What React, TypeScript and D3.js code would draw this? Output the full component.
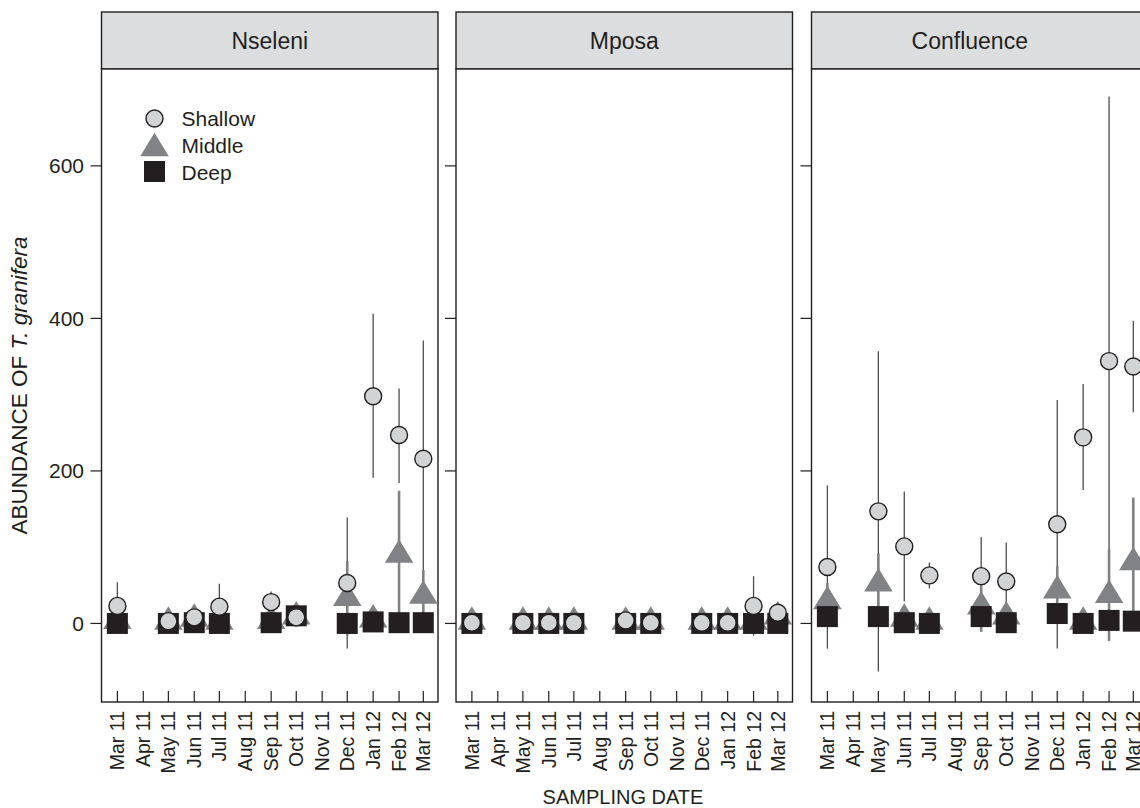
import React from "react";
import * as d3 from "d3";

const WIDTH = 1140;
const HEIGHT = 808;

const sites = ["Nseleni", "Mposa", "Confluence"];
const sampleMonths = [
  "2011-03-01", "2011-05-01", "2011-06-01", "2011-07-01", "2011-09-01",
  "2011-10-01", "2011-12-01", "2012-01-01", "2012-02-01", "2012-03-01",
];
const yTicks = [0, 200, 400, 600];

// each entry: [mean, lower, upper]
const nseleniShallow = [[23, -8, 54], [3, 0, 6], [8, 2, 14], [22, -8, 52], [28, 14, 42], [8, 3, 13], [53, -33, 139], [298, 191, 406], [247, 184, 308], [216, 65, 371]];
const nseleniMiddle = [[3, 0, 6], [2, 0, 4], [6, 2, 10], [2, 0, 4], [3, 0, 6], [9, 4, 14], [33, -16, 82], [5, 0, 10], [90, 6, 174], [36, 2, 70]];
const nseleniDeep = [[0, -3, 3], [0, -3, 3], [1, -2, 4], [0, -3, 3], [1, -2, 4], [10, 5, 15], [0, -3, 3], [2, -1, 5], [1, -2, 4], [1, -2, 4]];

const mposaShallow = [[1, 0, 2], [1, 0, 2], [1, 0, 2], [1, 0, 2], [4, 1, 7], [1, 0, 2], [1, 0, 2], [1, 0, 2], [23, -16, 62], [14, 8, 20]];
const mposaMiddle = [[2, 0, 4], [2, 0, 4], [2, 0, 4], [2, 0, 4], [2, 0, 4], [2, 0, 4], [2, 0, 4], [2, 0, 4], [2, 0, 4], [9, 4, 14]];
const mposaDeep = [[0, -2, 2], [0, -2, 2], [0, -2, 2], [0, -2, 2], [0, -2, 2], [0, -2, 2], [0, -2, 2], [0, -2, 2], [0, -2, 2], [0, -2, 2]];

const confluenceShallow = [[74, -33, 181], [147, -63, 357], [101, 29, 173], [63, 46, 80], [62, 11, 113], [55, 4, 106], [130, -33, 293], [244, 175, 314], [344, -3, 691], [337, 277, 397]];
const confluenceMiddle = [[29, 5, 53], [52, 12, 92], [6, 0, 12], [2, 0, 4], [22, -11, 55], [9, 0, 18], [43, 11, 75], [2, 0, 4], [37, -23, 97], [80, -5, 165]];
const confluenceDeep = [[9, 0, 18], [9, 0, 18], [1, -3, 5], [0, -3, 3], [9, 3, 15], [1, -3, 5], [13, 5, 21], [0, -3, 3], [4, -1, 9], [3, -1, 7]];

const depthNames = ["Shallow", "Middle", "Deep"];

const siteSeries: Record<string, number[][][]> = {
  Nseleni: [nseleniShallow, nseleniMiddle, nseleniDeep],
  Mposa: [mposaShallow, mposaMiddle, mposaDeep],
  Confluence: [confluenceShallow, confluenceMiddle, confluenceDeep],
};

// layout
const panelX = [101.5, 456, 811.5];
const panelW = 336.5;
const stripTop = 12;
const plotTop = 69;
const plotBottom = 702;
const font = "'Liberation Sans', Arial, Helvetica, sans-serif";
const ink = "#231f20";
const circleFill = "#d1d3d4";
const triFill = "#808285";
const triW = 28.5;
const triH = 23.5;
const sq = 21;

const parse = d3.timeParse("%Y-%m-%d");
const fmt = d3.timeFormat("%b %y");

const x = d3
  .scaleTime()
  .domain([new Date(2011, 1, 10), new Date(2012, 2, 18, 14)])
  .range([0, panelW]);

const y = d3.scaleLinear().domain([-103, 727]).range([plotBottom, plotTop]);

function triPath(cx: number, cy: number) {
  const p = d3.path();
  p.moveTo(cx, cy - (2 * triH) / 3);
  p.lineTo(cx + triW / 2, cy + triH / 3);
  p.lineTo(cx - triW / 2, cy + triH / 3);
  p.closePath();
  return p.toString();
}

function Panel({ site, x0, showLegend }: { site: string; x0: number; showLegend: boolean }) {
  const [shallow, middle, deep] = siteSeries[site];
  const dates = sampleMonths.map((d) => parse(d) as Date);
  const months = x.ticks(d3.timeMonth.every(1) as d3.TimeInterval);
  const visibleRight = Math.min(x0 + panelW, WIDTH);
  const titleX = (visibleRight - x0) / 2 - (visibleRight < x0 + panelW ? 6 : 0);

  const bar = (s: number[][], color: string, w: number, key: string) =>
    s.map((d, i) => (
      <line
        key={key + i}
        x1={x(dates[i])}
        x2={x(dates[i])}
        y1={y(d[1])}
        y2={y(d[2])}
        stroke={color}
        strokeWidth={w}
      />
    ));

  return (
    <g transform={`translate(${x0},0)`}>
      <rect x={0} y={stripTop} width={panelW} height={plotTop - stripTop} fill="#dcddde" stroke={ink} strokeWidth={1.4} />
      <text x={titleX} y={(stripTop + plotTop) / 2} textAnchor="middle" dominantBaseline="central" fontSize={23} fill={ink}>
        {site}
      </text>
      <rect x={0} y={plotTop} width={panelW} height={plotBottom - plotTop} fill="white" stroke={ink} strokeWidth={1.4} />

      {/* y ticks, outward on the left of every panel */}
      {yTicks.map((t) => (
        <line key={"yt" + t} x1={-11} x2={0} y1={y(t)} y2={y(t)} stroke={ink} strokeWidth={1.2} />
      ))}

      {/* x ticks, inward from the bottom */}
      {months.map((m, i) => (
        <g key={"xt" + i}>
          <line x1={x(m)} x2={x(m)} y1={plotBottom} y2={plotBottom - 11} stroke={ink} strokeWidth={1.2} />
          <text
            transform={`translate(${x(m)},${plotBottom + 9}) rotate(-90)`}
            textAnchor="end"
            dominantBaseline="central"
            fontSize={19.5}
            fill={ink}
          >
            {fmt(m)}
          </text>
        </g>
      ))}

      {bar(shallow, "#4d4d4f", 1.3, "sb")}
      {bar(middle, triFill, 2.6, "mb")}
      {bar(deep, ink, 1.3, "db")}

      {middle.map((d, i) => (
        <path key={"m" + i} d={triPath(x(dates[i]), y(d[0]))} fill={triFill} />
      ))}
      {deep.map((d, i) => (
        <rect key={"d" + i} x={x(dates[i]) - sq / 2} y={y(d[0]) - sq / 2} width={sq} height={sq} fill={ink} />
      ))}
      {shallow.map((d, i) => (
        <circle key={"s" + i} cx={x(dates[i])} cy={y(d[0])} r={8.5} fill={circleFill} stroke={ink} strokeWidth={1.4} />
      ))}

      {showLegend && (
        <g>
          <circle cx={53} cy={118.5} r={8.5} fill={circleFill} stroke={ink} strokeWidth={1.4} />
          <path d={triPath(53, 148.5)} fill={triFill} />
          <rect x={53 - sq / 2} y={171.5 - sq / 2} width={sq} height={sq} fill={ink} />
          {depthNames.map((n, i) => (
            <text key={n} x={80} y={[118.5, 145, 172][i]} dominantBaseline="central" fontSize={21} fill={ink}>
              {n}
            </text>
          ))}
        </g>
      )}
    </g>
  );
}

export default function App() {
  return (
    <div>
      <style>{`body{margin:0}`}</style>
      <svg width={WIDTH} height={HEIGHT} style={{ display: "block", background: "white" }} fontFamily={font}>
        {sites.map((s, i) => (
          <Panel key={s} site={s} x0={panelX[i]} showLegend={i === 0} />
        ))}

        {yTicks.map((t) => (
          <text key={"yl" + t} x={84} y={y(t)} textAnchor="end" dominantBaseline="central" fontSize={21} fill={ink}>
            {t}
          </text>
        ))}

        <text
          transform={`translate(19,${(plotTop + plotBottom) / 2}) rotate(-90)`}
          textAnchor="middle"
          dominantBaseline="central"
          fontSize={22.5}
          fill={ink}
        >
          ABUNDANCE OF <tspan fontStyle="italic">T. granifera</tspan>
        </text>

        <text x={623} y={797} textAnchor="middle" dominantBaseline="central" fontSize={20} fill={ink}>
          SAMPLING DATE
        </text>
      </svg>
    </div>
  );
}
